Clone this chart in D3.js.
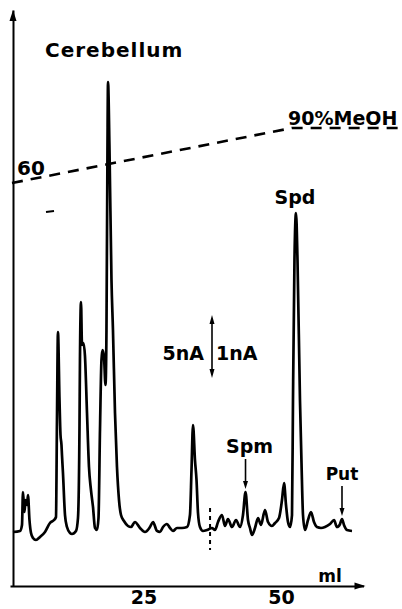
<!DOCTYPE html>
<html>
<head>
<meta charset="utf-8">
<script src="https://cdn.jsdelivr.net/npm/d3@7"></script>
<style>
  body { margin: 0; background: #fff; }
  svg { display: block; }
  text { font-family: "DejaVu Sans", sans-serif; font-weight: bold; fill: #000; }
</style>
</head>
<body>
<div id="chart"></div>
<script>
// elution volume (ml) and detector signal (arbitrary units)
const volume = [
  1.27, 2.55, 2.91, 3.09, 3.36, 3.55, 3.82, 4.0, 4.27, 4.55, 4.91, 5.45, 6.18, 7.09, 8.0, 8.73, 9.09,
  9.27, 9.45, 9.73, 9.91, 10.09, 10.18, 10.36, 10.73, 11.09, 11.64, 12.0, 12.73, 13.09, 13.36, 13.45,
  13.64, 13.82, 14.09, 14.36, 14.73, 15.09, 15.45, 15.82, 16.18, 16.55, 16.82, 17.09, 17.36, 17.55,
  17.82, 18.09, 18.27, 18.45, 18.55, 18.82, 19.18, 19.45, 19.82, 20.18, 20.55, 20.91, 21.45, 22.18,
  22.73, 23.45, 24.36, 25.27, 26.18, 26.73, 27.45, 28.0, 28.55, 29.27, 29.82, 30.36, 31.09, 32.0,
  32.91, 33.45, 33.73, 34.0, 34.36, 34.64, 34.91, 35.27, 35.82, 36.55, 37.45, 38.0, 38.55, 39.27,
  39.82, 40.36, 41.09, 41.82, 42.55, 43.09, 43.55, 44.0, 44.36, 44.73, 45.27, 45.82, 46.36, 47.09,
  47.64, 48.36, 48.91, 49.64, 50.18, 50.55, 50.91, 51.27, 51.64, 52.0, 52.18, 52.45, 52.73, 53.0,
  53.45, 53.73, 54.0, 54.36, 54.91, 55.45, 56.0, 56.55, 57.27, 58.0, 58.91, 59.64, 60.18, 60.73,
  61.09, 61.45, 62.0, 62.91
]
const signal = [
  9.0, 9.17, 10.17, 15.67, 12.33, 14.33, 13.5, 15.17, 11.0, 8.83, 8.0, 7.67, 8.17, 9.0, 10.5, 11.0, 11.5,
  27.67, 42.33, 31.0, 25.17, 23.5, 21.83, 18.83, 11.83, 9.83, 8.83, 8.67, 9.17, 11.33, 26.0, 37.67,
  47.33, 40.17, 40.5, 38.33, 28.83, 19.83, 16.0, 13.17, 9.67, 9.33, 11.33, 26.0, 37.67, 39.33,
  38.17, 33.5, 42.67, 72.67, 84.0, 72.67, 51.0, 42.67, 28.83, 19.83, 14.33, 11.83, 10.83, 10.0,
  9.83, 10.67, 9.67, 9.0, 9.83, 10.67, 9.17, 9.0, 9.83, 10.33, 9.67, 9.17, 9.67, 9.67,
  9.83, 11.83, 19.33, 26.83, 21.0, 17.67, 12.17, 9.83, 9.17, 9.33, 9.67, 9.33, 10.67, 11.83,
  10.0, 11.17, 9.83, 11.0, 9.83, 11.83, 15.67, 11.0, 9.67, 8.5, 9.67, 11.33, 10.17, 12.67,
  10.67, 10.0, 10.5, 11.33, 14.33, 17.17, 13.5, 10.67, 9.83, 11.83, 31.0, 54.33, 62.17, 54.33,
  31.0, 20.5, 11.83, 9.33, 11.0, 12.33, 10.67, 9.83, 9.67, 9.83, 10.33, 11.0, 9.83, 10.33,
  11.17, 10.17, 9.33, 9.17
]

// methanol gradient (ml, % MeOH)
const gradientMl = [1.09, 52, 72]
const gradientPct = [60, 90, 90]

// identified peaks
const peakNames = ["Spm", "Spd", "Put"]
const peakMl = [43.55, 52.73, 61.09]
const peakArrow = [true, false, true]

const xTicks = [25, 50]
const injectionMl = 37.1

const width = 402
const height = 609

const svg = d3.select("#chart")
  .append("svg")
  .attr("width", width)
  .attr("height", height)

svg.append("rect")
  .attr("width", width)
  .attr("height", height)
  .attr("fill", "#fff")

const x = d3.scaleLinear()
  .domain([0.73, 65])
  .range([10, 363.5])

const y = d3.scaleLinear()
  .domain([0, 96])
  .range([586, 10])

const yGrad = d3.scaleLinear()
  .domain([60, 90])
  .range([183, 128])

// axes
const xAxis = svg.append("g")
  .attr("transform", `translate(0, ${y(0)})`)
  .call(d3.axisBottom(x)
    .tickValues(xTicks)
    .tickSize(0)
    .tickPadding(5)
    .tickFormat(d3.format("d"))
  )
xAxis.select(".domain").attr("stroke", "#000").attr("stroke-width", 2)
xAxis.selectAll("text")
  .attr("font-size", 19)
  .attr("font-family", "DejaVu Sans")
  .attr("font-weight", "bold")
  .attr("fill", "#000")

const yAxis = svg.append("g")
  .attr("transform", `translate(13, 0)`)
  .call(d3.axisLeft(y).tickValues([]).tickSizeOuter(0))
yAxis.select(".domain").attr("stroke", "#000").attr("stroke-width", 2)

// arrow heads on the axes
const xEnd = x.range()[1]
svg.append("path")
  .attr("d", `M${xEnd + 2},${y(0)} L${xEnd - 9},${y(0) - 3.5} L${xEnd - 9},${y(0) + 3.5} Z`)
  .attr("fill", "#000")
const yTop = y.range()[1]
svg.append("path")
  .attr("d", `M13,${yTop} L9.5,${yTop + 11} L16.5,${yTop + 11} Z`)
  .attr("fill", "#000")

svg.append("text")
  .attr("x", 330)
  .attr("y", 582)
  .attr("text-anchor", "middle")
  .attr("font-size", 17)
  .text("ml")

// gradient line
const gradData = gradientMl.map((d, i) => ({ ml: d, pct: gradientPct[i] }))
svg.append("path")
  .datum(gradData)
  .attr("fill", "none")
  .attr("stroke", "#000")
  .attr("stroke-width", 2.6)
  .attr("stroke-dasharray", "11,8")
  .attr("d", d3.line().x(d => x(d.ml)).y(d => yGrad(d.pct)))

svg.append("text")
  .attr("x", 17)
  .attr("y", 175)
  .attr("font-size", 20)
  .text(gradientPct[0])

svg.append("text")
  .attr("x", 288)
  .attr("y", 125)
  .attr("font-size", 19)
  .text(`${gradientPct[1]}%MeOH`)

// small stray mark below the gradient
svg.append("line")
  .attr("x1", 46).attr("x2", 54)
  .attr("y1", 212).attr("y2", 211)
  .attr("stroke", "#000")
  .attr("stroke-width", 2)

// chromatogram trace
const trace = volume.map((d, i) => ({ ml: d, v: signal[i] }))
svg.append("path")
  .datum(trace)
  .attr("fill", "none")
  .attr("stroke", "#000")
  .attr("stroke-width", 2.7)
  .attr("stroke-linejoin", "round")
  .attr("d", d3.line().x(d => x(d.ml)).y(d => y(d.v)).curve(d3.curveMonotoneX))

// injection marker
svg.append("line")
  .attr("x1", x(injectionMl)).attr("x2", x(injectionMl))
  .attr("y1", 508).attr("y2", 550)
  .attr("stroke", "#000")
  .attr("stroke-width", 2)
  .attr("stroke-dasharray", "4,4")

// title
svg.append("text")
  .attr("x", 45)
  .attr("y", 57)
  .attr("font-size", 20)
  .attr("letter-spacing", 1)
  .text("Cerebellum")

// peak labels
peakNames.forEach((name, i) => {
  const idx = volume.indexOf(peakMl[i])
  const px = x(peakMl[i])
  const py = y(signal[idx])
  if (peakArrow[i]) {
    const tip = py - 3
    svg.append("line")
      .attr("x1", px).attr("x2", px)
      .attr("y1", tip - 30).attr("y2", tip - 6)
      .attr("stroke", "#000")
      .attr("stroke-width", 1.6)
    svg.append("path")
      .attr("d", `M${px},${tip} L${px - 2.5},${tip - 8} L${px + 2.5},${tip - 8} Z`)
      .attr("fill", "#000")
    svg.append("text")
      .attr("x", px + (name === "Spm" ? 4 : 0))
      .attr("y", tip - 36)
      .attr("text-anchor", "middle")
      .attr("font-size", name === "Put" ? 17 : 19)
      .text(name)
  } else {
    svg.append("text")
      .attr("x", px - 1)
      .attr("y", py - 9)
      .attr("text-anchor", "middle")
      .attr("font-size", 19)
      .text(name)
  }
})

// current scale bar
const barX = 212
svg.append("line")
  .attr("x1", barX).attr("x2", barX)
  .attr("y1", 322).attr("y2", 371)
  .attr("stroke", "#000")
  .attr("stroke-width", 1.6)
svg.append("path")
  .attr("d", `M${barX},315 L${barX - 2.5},324 L${barX + 2.5},324 Z M${barX},378 L${barX - 2.5},369 L${barX + 2.5},369 Z`)
  .attr("fill", "#000")
svg.append("text")
  .attr("x", 204)
  .attr("y", 360)
  .attr("text-anchor", "end")
  .attr("font-size", 19)
  .text("5nA")
svg.append("text")
  .attr("x", 216)
  .attr("y", 360)
  .attr("font-size", 19)
  .text("1nA")
</script>
</body>
</html>
